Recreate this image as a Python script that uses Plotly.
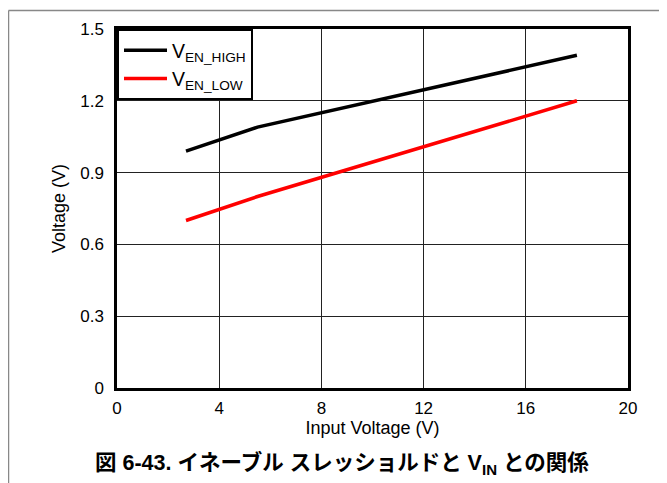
import plotly.graph_objects as go

vin_high = [2.7, 5.5, 18.0]
ven_high = [0.99, 1.09, 1.39]
vin_low = [2.7, 5.5, 18.0]
ven_low = [0.70, 0.80, 1.20]

x_ticks = [0, 4, 8, 12, 16, 20]
y_ticks = [0, 0.3, 0.6, 0.9, 1.2, 1.5]
y_labels = ["0", "0.3", "0.6", "0.9", "1.2", "1.5"]

# page has an 8px body offset; figure coords = page coords - 8
OFF = 8
W, H = 667, 483
L, T = 117 - OFF, 27 - OFF
PR, PB = 628 - OFF, 388 - OFF
R, B = W - PR, H - PB
pw, ph = PR - L, PB - T

def px_x(px):
    return (px - OFF - L) / pw

def px_y(py):
    return (PB - (py - OFF)) / ph

fig = go.Figure()
fig.add_trace(go.Scatter(x=vin_high, y=ven_high, mode="lines", name="V<sub>EN_HIGH</sub>",
                         line=dict(color="black", width=3.5)))
fig.add_trace(go.Scatter(x=vin_low, y=ven_low, mode="lines", name="V<sub>EN_LOW</sub>",
                         line=dict(color="#ff0000", width=3.5)))

font = "Liberation Sans, Arial, sans-serif"
fig.update_layout(
    width=W, height=H,
    margin=dict(l=L, r=R, t=T, b=B),
    paper_bgcolor="white", plot_bgcolor="white",
    font=dict(family=font, size=17, color="black"),
    showlegend=True,
    legend=dict(x=0, y=1, xanchor="left", yanchor="top", bordercolor="black", borderwidth=2,
                bgcolor="white", font=dict(size=19.5, family=font), tracegroupgap=0,
                itemwidth=43),
    xaxis=dict(range=[0, 20], tickvals=x_ticks, ticktext=[str(v) for v in x_ticks],
               showgrid=True, gridcolor="#222", gridwidth=1, zeroline=False,
               showline=True, linecolor="black", linewidth=2.5, mirror=True,
               ticks="", tickfont=dict(size=17), ticklabelstandoff=3,
               title=dict(text="Input Voltage (V)", font=dict(size=18), standoff=5)),
    yaxis=dict(range=[0, 1.5], tickvals=y_ticks, ticktext=y_labels,
               showgrid=True, gridcolor="#222", gridwidth=1, zeroline=False,
               showline=True, linecolor="black", linewidth=2.5, mirror=True,
               ticks="", tickfont=dict(size=17), ticklabelstandoff=7,
               title=dict(text="Voltage (V)", font=dict(size=18), standoff=10)),
)

# outer gray frame (figure top and left edges)
fig.add_shape(type="line", xref="paper", yref="paper", x0=px_x(8.5), x1=px_x(W + 20),
              y0=px_y(8.5), y1=px_y(8.5), line=dict(color="#888", width=1.5))
fig.add_shape(type="line", xref="paper", yref="paper", x0=px_x(8.5), x1=px_x(8.5),
              y0=px_y(8.5), y1=px_y(H + 20), line=dict(color="#888", width=1.5))

fig.add_annotation(xref="paper", yref="paper", x=px_x(342), y=px_y(464),
                   text="<b>図 6-43. イネーブル スレッショルドと V<sub>IN</sub> との関係</b>",
                   showarrow=False, xanchor="center", yanchor="middle",
                   font=dict(family="Liberation Sans, Noto Sans CJK JP, sans-serif", size=21.5, color="black"))

fig.write_html("out.html")
